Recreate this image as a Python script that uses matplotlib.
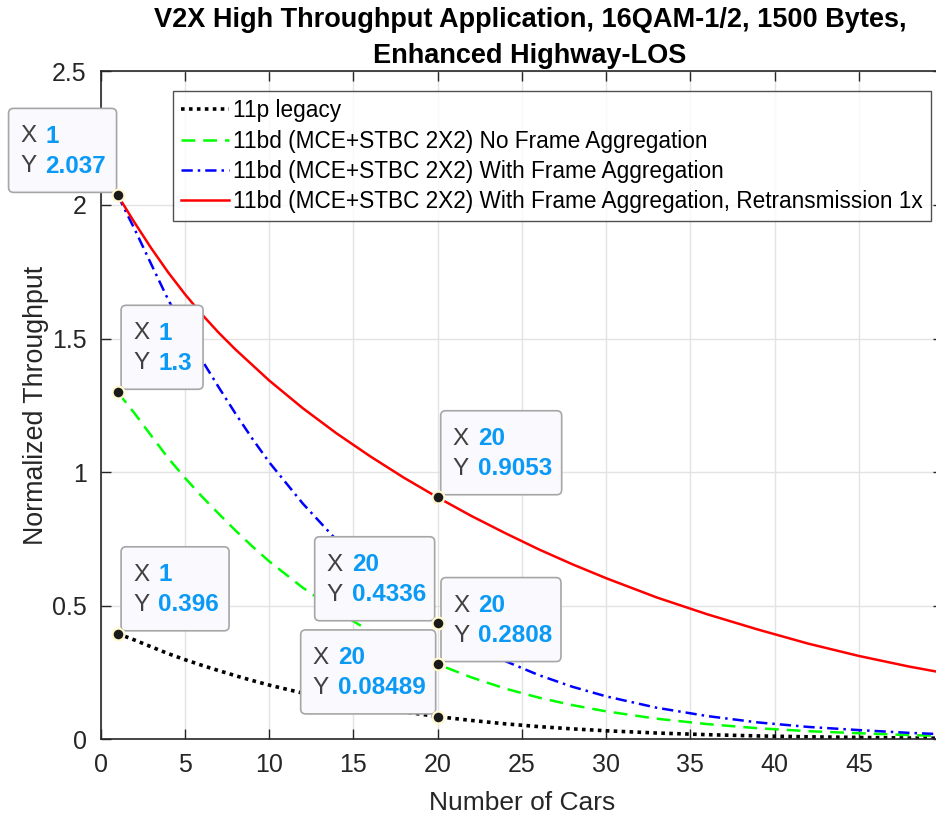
import matplotlib
matplotlib.use("Agg")
import matplotlib.pyplot as plt
from matplotlib.patches import FancyBboxPatch
from matplotlib.transforms import IdentityTransform

plt.rcParams["font.family"] = ["Liberation Sans", "DejaVu Sans"]

# data
cars = [1, 2, 3, 4, 5, 6, 7, 8, 9, 10, 12, 14, 16, 18, 20, 22, 24, 26, 28, 30,
        33, 36, 39, 42, 45, 48, 50]
legacy = [0.396, 0.3718, 0.3461, 0.3207, 0.2981, 0.2770, 0.2572, 0.2380, 0.2199,
          0.2029, 0.1728, 0.1463, 0.1229, 0.1029, 0.08489, 0.0706, 0.0579, 0.0475,
          0.0390, 0.0319, 0.0235, 0.0173, 0.0126, 0.0093, 0.0069, 0.0048, 0.0038]
no_agg = [1.3, 1.2206, 1.1363, 1.0527, 0.9786, 0.9092, 0.8445, 0.7814, 0.7220,
          0.6661, 0.5672, 0.4802, 0.4035, 0.3377, 0.2808, 0.2318, 0.1900, 0.1560,
          0.1279, 0.1046, 0.0771, 0.0569, 0.0414, 0.0304, 0.0227, 0.0158, 0.0125]
with_agg = [2.037, 1.911, 1.778, 1.646, 1.529, 1.420, 1.318, 1.219, 1.125,
            1.037, 0.882, 0.7456, 0.6256, 0.5229, 0.4336, 0.358, 0.2931, 0.2403,
            0.1966, 0.1607, 0.1181, 0.0870, 0.0632, 0.0463, 0.0345, 0.0240, 0.0189]
retx = [2.037, 1.935, 1.838, 1.748, 1.666, 1.591, 1.522, 1.459, 1.401,
        1.343, 1.239, 1.145, 1.059, 0.979, 0.9053, 0.836, 0.772, 0.711,
        0.655, 0.603, 0.531, 0.468, 0.411, 0.358, 0.312, 0.272, 0.249]

labels = ["11p legacy",
          "11bd (MCE+STBC 2X2) No Frame Aggregation",
          "11bd (MCE+STBC 2X2) With Frame Aggregation",
          "11bd (MCE+STBC 2X2) With Frame Aggregation, Retransmission 1x"]
title = "V2X High Throughput Application, 16QAM-1/2, 1500 Bytes,\nEnhanced Highway-LOS"

series = {"legacy": legacy, "no_agg": no_agg, "with_agg": with_agg, "retx": retx}

# datatips: series, car count, box offset from point (px), box width (px)
tips = [("retx", 1, -109, 108),
        ("no_agg", 1, 3.5, 82),
        ("retx", 20, 3, 121),
        ("legacy", 1, 3.5, 108),
        ("with_agg", 20, -123, 120),
        ("no_agg", 20, 3.3, 120),
        ("legacy", 20, -137, 135)]

DARK = "#262626"

fig = plt.figure(figsize=(9.37, 8.16), dpi=100)
ax = fig.add_axes([0.1075, 0.094, 0.899, 0.8185])

ax.plot(cars, legacy, color="black", linestyle=(0, (1, 1.2)), linewidth=2.6,
        label=labels[0])
ax.plot(cars, no_agg, color=(0, 1, 0), linestyle=(0, (5.5, 3.2)), linewidth=1.8,
        label=labels[1])
ax.plot(cars, with_agg, color=(0, 0, 1), linestyle=(0, (4.5, 2, 1, 2)),
        linewidth=1.8, label=labels[2])
ax.plot(cars, retx, color=(1, 0, 0), linewidth=1.8, label=labels[3])

ax.set_xlim(0, 50)
ax.set_ylim(0, 2.5)
ax.set_xticks(range(0, 50, 5))
ax.set_yticks([0, 0.5, 1, 1.5, 2, 2.5])
ax.set_yticklabels(["0", "0.5", "1", "1.5", "2", "2.5"])
ax.grid(True, color="#e3e3e3", linewidth=1.0)
ax.set_axisbelow(True)
ax.tick_params(direction="in", length=7, width=1, top=True, right=True,
               labelsize=18, colors=DARK, pad=10)
for s in ax.spines.values():
    s.set_color(DARK)
    s.set_linewidth(1.2)

ax.set_xlabel("Number of Cars", fontsize=19, color=DARK, labelpad=10)
ax.set_ylabel("Normalized Throughput", fontsize=19.3, color=DARK, labelpad=2)
ttl = ax.set_title(title, fontsize=19.5, fontweight="bold", color="black",
                   pad=6, linespacing=1.5)
ttl.set_x(0.5 + 8 / 842.5)

leg = ax.legend(loc="upper right", bbox_to_anchor=(0.9855, 0.97), fontsize=16.25,
                frameon=True, fancybox=False, handlelength=2.1,
                handletextpad=0.2, labelspacing=0.32, borderpad=0.35,
                borderaxespad=0)
leg.get_frame().set_edgecolor(DARK)
leg.get_frame().set_linewidth(1.0)

# datatips
BOX_H = 84
for key, car, dx, w in tips:
    i = cars.index(car)
    yv = series[key][i]
    ax.plot([car], [yv], "o", color="#1a1a1a", markersize=8.5,
            markeredgecolor="#fff8d0", markeredgewidth=1.6, clip_on=False,
            zorder=12)
    px, py = ax.transData.transform((car, yv))
    x0 = px + dx
    y0 = py + 2.7
    box = FancyBboxPatch((x0, y0), w, BOX_H,
                         boxstyle="round,pad=0,rounding_size=5",
                         transform=IdentityTransform(), facecolor="#f9f9fe",
                         edgecolor="#a6a6a6", linewidth=1.2, zorder=11,
                         clip_on=False)
    ax.add_artist(box)
    top = y0 + BOX_H
    for row, (name, val) in enumerate([("X", car), ("Y", yv)]):
        ty = top - 28 - 30 * row
        ax.text(x0 + 12, ty, name, transform=IdentityTransform(),
                fontsize=17.5, color="#404040", va="center", ha="left",
                zorder=13)
        ax.text(x0 + 37, ty, f"{val:.4g}", transform=IdentityTransform(),
                fontsize=17.5, color="#0a9af5", fontweight="bold",
                va="center", ha="left", zorder=13)

fig.savefig("out.png", dpi=100)
